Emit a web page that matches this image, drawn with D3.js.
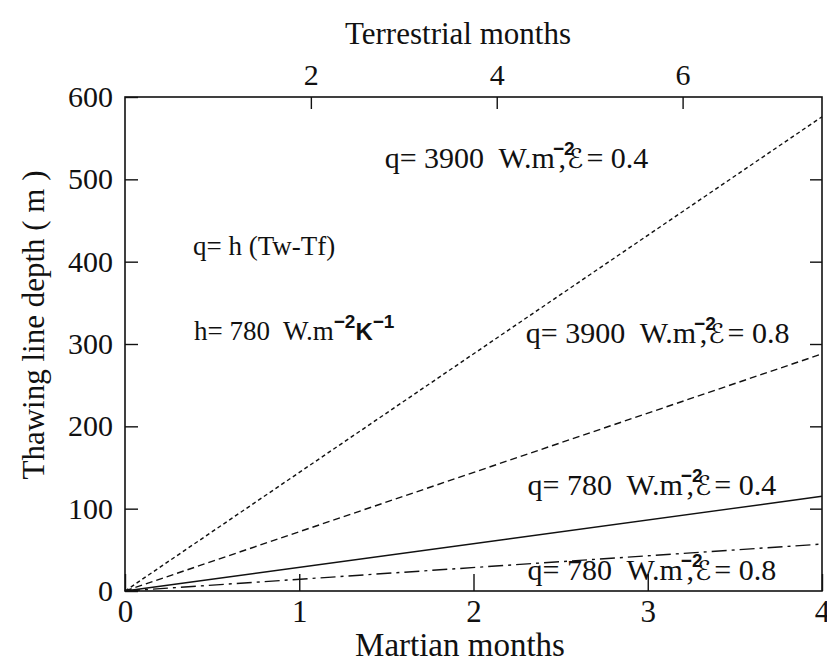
<!DOCTYPE html>
<html>
<head>
<meta charset="utf-8">
<script src="https://cdn.jsdelivr.net/npm/d3@7"></script>
<style>
  body { margin: 0; background: #fff; }
  svg text { font-family: "Liberation Serif", "DejaVu Serif", serif; fill: #111; }
  .axis path { display: none; }
  .axis line { stroke: #111; stroke-width: 1.4px; }
</style>
</head>
<body>
<div id="chart"></div>
<script>
// data
const martianMonths = [0, 4];
const depth3900e04 = [0, 576];
const depth3900e08 = [0, 288];
const depth780e04 = [0, 115];
const depth780e08 = [0, 57];

const fluxes = [3900, 3900, 780, 780];
const emissivities = ["0.4", "0.8", "0.4", "0.8"];

const depthTicks = [0, 100, 200, 300, 400, 500, 600];
const martianTicks = [0, 1, 2, 3, 4];
const terrestrialTicks = [2, 4, 6];

// set the dimensions and margins of the graph
const margin = {top: 97, right: 5, bottom: 73, left: 125},
    width = 827 - margin.left - margin.right,
    height = 664 - margin.top - margin.bottom;

const svg = d3.select("#chart")
    .append("svg")
        .attr("width", 827)
        .attr("height", 664)
    .append("g")
        .attr("transform", `translate(${margin.left}, ${margin.top})`);

const x = d3.scaleLinear().domain([0, 4]).range([0, width]);
const xTop = d3.scaleLinear().domain([0, 7.5]).range([0, width]);
const y = d3.scaleLinear().domain([0, 600]).range([height, 0]);

// frame
svg.append("rect")
    .attr("width", width)
    .attr("height", height)
    .attr("fill", "none")
    .attr("stroke", "#111")
    .attr("stroke-width", 1.6);

// axes, ticks point inwards
svg.append("g")
    .attr("class", "axis")
    .attr("transform", `translate(0, ${height})`)
    .call(d3.axisBottom(x).tickValues(martianTicks).tickSize(-17).tickPadding(9).tickFormat(d3.format("d")))
    .selectAll("text").attr("font-size", 31).attr("font-family", null);

svg.append("g")
    .attr("class", "axis")
    .call(d3.axisTop(xTop).tickValues(terrestrialTicks).tickSize(-12).tickPadding(12).tickFormat(d3.format("d")))
    .selectAll("text").attr("font-size", 30).attr("font-family", null);

svg.append("g")
    .attr("class", "axis")
    .call(d3.axisLeft(y).tickValues(depthTicks).tickSize(-13).tickPadding(12).tickFormat(d3.format("d")))
    .selectAll("text").attr("font-size", 30).attr("font-family", null);

svg.append("g")
    .attr("class", "axis")
    .attr("transform", `translate(${width}, 0)`)
    .call(d3.axisRight(y).tickValues([100, 200, 300, 400, 500]).tickSize(-12).tickFormat(""));

// axis titles
svg.append("text")
    .attr("x", 333)
    .attr("y", 44 - margin.top)
    .attr("text-anchor", "middle")
    .attr("font-size", 31)
    .text("Terrestrial months");

svg.append("text")
    .attr("x", 335)
    .attr("y", 656 - margin.top)
    .attr("text-anchor", "middle")
    .attr("font-size", 33)
    .text("Martian months");

svg.append("text")
    .attr("transform", `translate(${44 - margin.left}, ${325 - margin.top}) rotate(-90)`)
    .attr("text-anchor", "middle")
    .attr("font-size", 31)
    .text("Thawing line depth ( m )");

// the four curves
const series = [
    {values: depth3900e04, dash: "4,3"},
    {values: depth3900e08, dash: "7,4"},
    {values: depth780e04, dash: null},
    {values: depth780e08, dash: "15,5,3,5"}
];

const line = d3.line()
    .x(d => x(d[0]))
    .y(d => y(d[1]));

svg.append("g")
    .selectAll("path")
    .data(series)
    .enter()
    .append("path")
    .attr("d", d => line(martianMonths.map((m, i) => [m, d.values[i]])))
    .attr("fill", "none")
    .attr("stroke", "#111")
    .attr("stroke-width", 1.4)
    .attr("stroke-dasharray", d => d.dash);

// curve labels, anchored in data units
const labelAt = [[1.49, 514], [2.3, 301], [2.31, 116], [2.31, 13]];

function supText(t, s) {
    return t.append("tspan")
        .attr("font-family", "Liberation Sans, Arial, sans-serif")
        .attr("font-weight", "bold")
        .attr("font-size", 19)
        .text(s);
}

labelAt.forEach((p, i) => {
    const t = svg.append("text")
        .attr("x", x(p[0]))
        .attr("y", y(p[1]))
        .attr("font-size", 30)
        .style("white-space", "pre");
    t.append("tspan").text(`q= ${fluxes[i]}  W.m`);
    supText(t, "\u22122").attr("dy", -13).attr("dx", -2);
    t.append("tspan").attr("dy", 13).attr("dx", -16).text(",");
    t.append("tspan").attr("dx", 1).attr("font-family", "DejaVu Sans, DejaVu Serif, serif").attr("font-size", 27).text("\u2130");
    t.append("tspan").attr("dx", 3).text(`= ${emissivities[i]}`);
});

// formula notes
svg.append("text")
    .attr("x", 193 - margin.left)
    .attr("y", 255 - margin.top)
    .attr("font-size", 27)
    .style("white-space", "pre")
    .text("q= h (Tw-Tf)");

const h = svg.append("text")
    .attr("x", 194 - margin.left)
    .attr("y", 340 - margin.top)
    .attr("font-size", 27)
    .style("white-space", "pre");
h.append("tspan").text("h= 780  W.m");
supText(h, "\u22122").attr("dy", -12);
supText(h, "K").attr("dy", 12).attr("font-size", 24);
supText(h, "\u22121").attr("dy", -12);
</script>
</body>
</html>
